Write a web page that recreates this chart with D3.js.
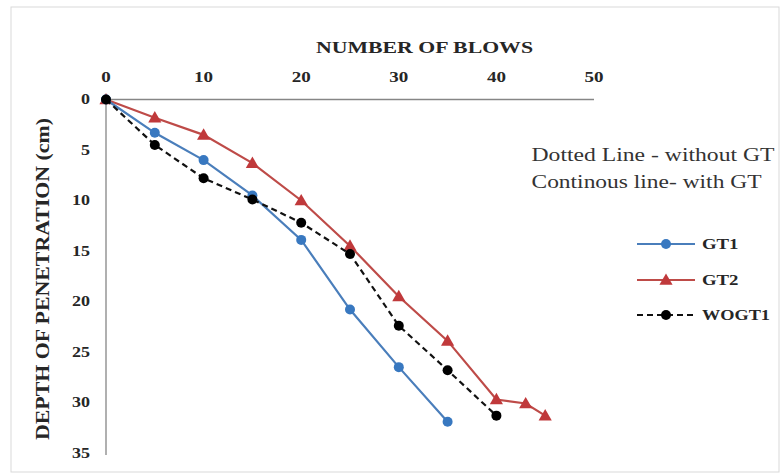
<!DOCTYPE html>
<html>
<head>
<meta charset="utf-8">
<script src="https://cdn.jsdelivr.net/npm/d3@7"></script>
<style>
  body { margin: 0; background: #fff; }
  svg { display: block; }
</style>
</head>
<body>
<div id="chart"></div>
<script>
// Data
const blowsGT1 = [0, 5, 10, 15, 20, 25, 30, 35];
const depthGT1 = [0, 3.3, 6.0, 9.5, 13.9, 20.8, 26.5, 31.9];

const blowsGT2 = [0, 5, 10, 15, 20, 25, 30, 35, 40, 43, 45];
const depthGT2 = [0, 1.8, 3.5, 6.3, 10.0, 14.5, 19.5, 23.9, 29.7, 30.1, 31.3];

const blowsWOGT1 = [0, 5, 10, 15, 20, 25, 30, 35, 40];
const depthWOGT1 = [0, 4.5, 7.8, 9.9, 12.2, 15.3, 22.4, 26.8, 31.3];

const xTicks = [0, 10, 20, 30, 40, 50];
const yTicks = [0, 5, 10, 15, 20, 25, 30, 35];

const seriesNames = ["GT1", "GT2", "WOGT1"];

const W = 780, H = 476;
const serif = "'Liberation Serif', 'Times New Roman', serif";

const svg = d3.select("#chart").append("svg")
  .attr("width", W)
  .attr("height", H);

svg.append("rect")
  .attr("width", W).attr("height", H)
  .attr("fill", "#fff");

// chart area border
svg.append("rect")
  .attr("x", 11).attr("y", 7)
  .attr("width", 768).attr("height", 465)
  .attr("fill", "none")
  .attr("stroke", "#d9d9d9");

// scales (depth grows downward, axis sits on top)
const x = d3.scaleLinear().domain([0, 50]).range([106, 594]);
const y = d3.scaleLinear().domain([0, 35]).range([99.5, 453]);

// axis lines
svg.append("line")
  .attr("x1", x(0)).attr("x2", x(50))
  .attr("y1", y(0)).attr("y2", y(0))
  .attr("stroke", "#868686").attr("stroke-width", 1.3);

svg.append("line")
  .attr("x1", x(0)).attr("x2", x(0))
  .attr("y1", y(0)).attr("y2", y(35) + 2)
  .attr("stroke", "#868686").attr("stroke-width", 1.3);

// top tick labels
svg.selectAll(".xlab")
  .data(xTicks)
  .enter().append("text")
  .attr("class", "xlab")
  .attr("x", d => x(d))
  .attr("y", 82)
  .attr("text-anchor", "middle")
  .attr("font-family", serif)
  .attr("font-weight", "bold")
  .attr("font-size", 14)
  .attr("textLength", d => String(d).length * 9.5)
  .attr("lengthAdjust", "spacingAndGlyphs")
  .attr("fill", "#262626")
  .text(d => d);

// left tick labels
svg.selectAll(".ylab")
  .data(yTicks)
  .enter().append("text")
  .attr("class", "ylab")
  .attr("x", 90)
  .attr("y", d => y(d) + 4.5)
  .attr("text-anchor", "end")
  .attr("font-family", serif)
  .attr("font-weight", "bold")
  .attr("font-size", 14)
  .attr("textLength", d => String(d).length * 9)
  .attr("lengthAdjust", "spacingAndGlyphs")
  .attr("fill", "#262626")
  .text(d => d);

// axis titles
svg.append("text")
  .attr("x", 424.5)
  .attr("y", 53)
  .attr("text-anchor", "middle")
  .attr("font-family", serif)
  .attr("font-weight", "bold")
  .attr("font-size", 17)
  .attr("textLength", 217)
  .attr("lengthAdjust", "spacingAndGlyphs")
  .attr("fill", "#262626")
  .text("NUMBER OF BLOWS");

svg.append("text")
  .attr("transform", "translate(49,279) rotate(-90)")
  .attr("text-anchor", "middle")
  .attr("font-family", serif)
  .attr("font-weight", "bold")
  .attr("font-size", 19)
  .attr("textLength", 322)
  .attr("lengthAdjust", "spacingAndGlyphs")
  .attr("fill", "#262626")
  .text("DEPTH OF PENETRATION (cm)");

// note text
svg.append("text")
  .attr("x", 531.5).attr("y", 161)
  .attr("font-family", serif)
  .attr("font-size", 18.5)
  .attr("textLength", 243)
  .attr("lengthAdjust", "spacingAndGlyphs")
  .attr("fill", "#333")
  .text("Dotted Line - without GT");

svg.append("text")
  .attr("x", 531.5).attr("y", 187.5)
  .attr("font-family", serif)
  .attr("font-size", 18.5)
  .attr("textLength", 230)
  .attr("lengthAdjust", "spacingAndGlyphs")
  .attr("fill", "#333")
  .text("Continous line- with GT");

// series styles
const styles = {
  GT1:   { line: "#4A7EBB", marker: "#3878C0", dash: null, symbol: "circle" },
  GT2:   { line: "#BE4B48", marker: "#C0393B", dash: null, symbol: "triangle" },
  WOGT1: { line: "#111",    marker: "#000",    dash: "6,4", symbol: "circle" }
};

const seriesData = {
  GT1: blowsGT1.map((b, i) => [b, depthGT1[i]]),
  GT2: blowsGT2.map((b, i) => [b, depthGT2[i]]),
  WOGT1: blowsWOGT1.map((b, i) => [b, depthWOGT1[i]])
};

const line = d3.line()
  .x(d => x(d[0]))
  .y(d => y(d[1]));

const triangle = d3.symbol().type(d3.symbolTriangle).size(75);

function drawMarker(g, cx, cy, st) {
  if (st.symbol === "triangle") {
    g.append("path")
      .attr("d", triangle())
      .attr("transform", `translate(${cx},${cy + 1})`)
      .attr("fill", st.marker);
  } else {
    g.append("circle")
      .attr("cx", cx).attr("cy", cy)
      .attr("r", 5)
      .attr("fill", st.marker);
  }
}

// draw in this order so the black dashed line sits on top like the original
["GT2", "GT1", "WOGT1"].forEach(name => {
  const st = styles[name];
  const g = svg.append("g");
  g.append("path")
    .datum(seriesData[name])
    .attr("d", line)
    .attr("fill", "none")
    .attr("stroke", st.line)
    .attr("stroke-width", 2.2)
    .attr("stroke-dasharray", st.dash);
  seriesData[name].forEach(d => drawMarker(g, x(d[0]), y(d[1]), st));
});

// legend
const legendY = [244, 280, 315];
seriesNames.forEach((name, i) => {
  const st = styles[name];
  const g = svg.append("g");
  g.append("line")
    .attr("x1", 637).attr("x2", 695)
    .attr("y1", legendY[i]).attr("y2", legendY[i])
    .attr("stroke", st.line)
    .attr("stroke-width", 2.2)
    .attr("stroke-dasharray", st.dash);
  drawMarker(g, 666, legendY[i], st);
  g.append("text")
    .attr("x", 702)
    .attr("y", legendY[i] + 5)
    .attr("font-family", serif)
    .attr("font-weight", "bold")
    .attr("font-size", 15)
    .attr("textLength", name === "WOGT1" ? 68 : 36.5)
    .attr("lengthAdjust", "spacingAndGlyphs")
    .attr("fill", "#262626")
    .text(name);
});
</script>
</body>
</html>
